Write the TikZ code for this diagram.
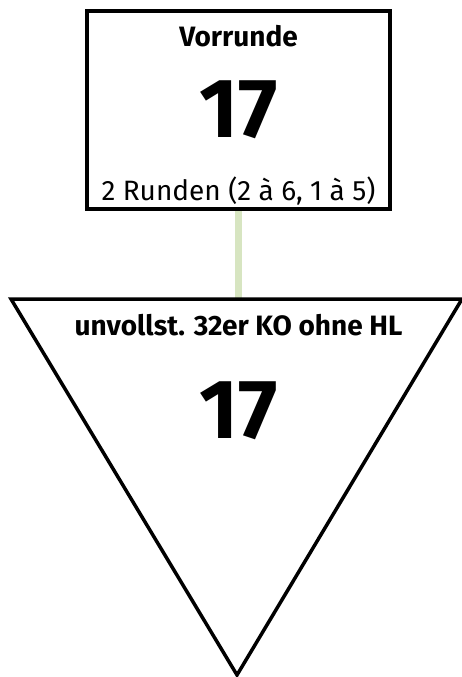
\documentclass[tikz,border=0pt]{standalone}
\usepackage{fontspec}
\setmainfont{Fira Sans}
\usepackage{xcolor}
\usepackage{tikz}
\usetikzlibrary{positioning}

\definecolor{linkgreen}{HTML}{D7E5C1}

\begin{document}
\begin{tikzpicture}[
    x=1pt, y=-1pt,
    stage/.style={draw, line width=3.5pt, fill=white, inner sep=0pt},
    title/.style={font=\fontsize{28}{30}\selectfont\bfseries, anchor=base},
    count/.style={font=\fontsize{84}{86}\selectfont\bfseries, anchor=base},
    info/.style={font=\fontsize{28}{30}\selectfont, anchor=base},
    link/.style={draw=linkgreen, line width=7pt},
]
    \useasboundingbox (0,0) rectangle (461,677);

    % KO triangle
    \coordinate (ko-l) at (11,299);
    \coordinate (ko-r) at (462,299);
    \coordinate (ko-tip) at (237,675);
    \coordinate (ko-top) at (238.5,299);

    \node[stage, minimum width=303pt, minimum height=198pt] (vorrunde) at (238.5,110) {};
    \draw[link] (vorrunde.south) -- (ko-top);
    \node[stage, minimum width=303pt, minimum height=198pt] at (238.5,110) {};
    \draw[line width=3.5pt, line join=miter] (ko-l) -- (ko-r) -- (ko-tip) -- cycle;

    % texts
    \node[title] (vr-name) at (238.5,46.5) {Vorrunde};
    \node[count] (vr-num) at (238.5,137) {17};
    \node[info] (vr-info) at (238.5,200) {2 Runden (2 à 6, 1 à 5)};

    \node[title] (ko-name) at (238.5,335) {unvollst. 32er KO ohne HL};
    \node[count] (ko-num) at (238.5,438) {17};
\end{tikzpicture}
\end{document}
